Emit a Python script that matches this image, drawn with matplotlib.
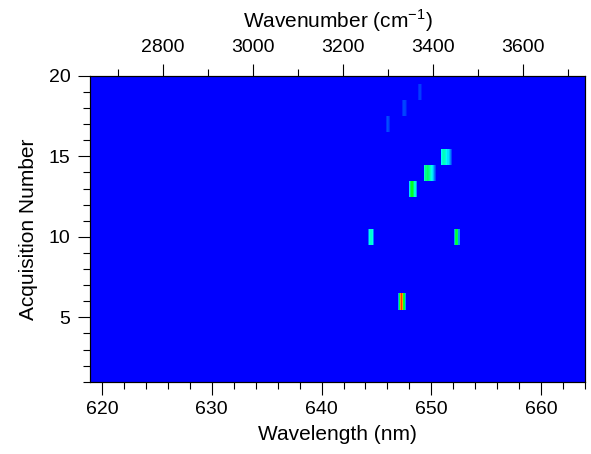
import numpy as np
import matplotlib
matplotlib.use("Agg")
import matplotlib.pyplot as plt
from matplotlib.colors import LinearSegmentedColormap
from matplotlib.ticker import MultipleLocator

plt.rcParams['font.family'] = ['Liberation Sans', 'DejaVu Sans']

# wavelength grid (nm) of the spectra, 20 acquisitions
wl_min, wl_max, wl_step = 618.9, 664.0, 0.1
n_acq = 20

# bright spots: acquisition, first wavelength, intensity profile
spot_acq = [6, 10, 10, 13, 14, 15, 17, 18, 19]
spot_start = [646.9, 644.2, 652.0, 647.9, 649.3, 650.8, 645.8, 647.3, 648.7]
spot_vals = [
    [0.15, 0.45, 0.85, 0.95, 0.85, 0.45, 0.15],
    [0.12, 0.27, 0.30, 0.27, 0.12],
    [0.15, 0.42, 0.46, 0.42, 0.15],
    [0.22, 0.40, 0.47, 0.47, 0.40, 0.30, 0.15],
    [0.30, 0.37, 0.40, 0.38, 0.35, 0.31, 0.27, 0.23, 0.18, 0.12, 0.07],
    [0.25, 0.30, 0.32, 0.31, 0.29, 0.26, 0.22, 0.18, 0.13, 0.07],
    [0.05, 0.08, 0.07, 0.04],
    [0.04, 0.07, 0.06, 0.03],
    [0.04, 0.06, 0.06, 0.03],
]

n_wl = int(round((wl_max - wl_min) / wl_step))
img = np.zeros((n_acq, n_wl))
for a, s, v in zip(spot_acq, spot_start, spot_vals):
    i0 = int(round((s - wl_min) / wl_step))
    img[a - 1, i0:i0 + len(v)] = v

cmap = LinearSegmentedColormap.from_list(
    'rb', ['#0000ff', '#00ffff', '#00ff00', '#ffff00', '#ff0000'])

fig = plt.figure(figsize=(5.91, 4.54), dpi=100)
ax = fig.add_axes([0.152, 0.159, 0.838, 0.674])
ax.imshow(img, cmap=cmap, vmin=0, vmax=1, aspect='auto', origin='lower',
          interpolation='nearest',
          extent=[wl_min, wl_max, 0.5, n_acq + 0.5])
ax.set_xlim(wl_min, wl_max)
ax.set_ylim(1, 20)

ax.xaxis.set_major_locator(MultipleLocator(10))
ax.xaxis.set_minor_locator(MultipleLocator(2))
ax.yaxis.set_major_locator(MultipleLocator(5))
ax.yaxis.set_minor_locator(MultipleLocator(1))
ax.tick_params(which='both', direction='out', labelsize=14, width=0.8)
ax.tick_params(which='major', length=9, pad=5)
ax.tick_params(which='minor', length=5)
ax.set_xlabel('Wavelength (nm)', fontsize=15, labelpad=5)
ax.set_ylabel('Acquisition Number', fontsize=15, labelpad=8)

top = ax.twiny()
top.set_xlim(2638.5, 3737)
top.xaxis.set_major_locator(MultipleLocator(200))
top.xaxis.set_minor_locator(MultipleLocator(100))
top.tick_params(which='both', direction='out', labelsize=14, width=0.8)
top.tick_params(which='major', length=9, pad=5)
top.tick_params(which='minor', length=5)
top.set_xlabel('Wavenumber (cm$^{\\mathregular{-1}}$)', fontsize=15, labelpad=8)

fig.savefig('out.png', dpi=100)
